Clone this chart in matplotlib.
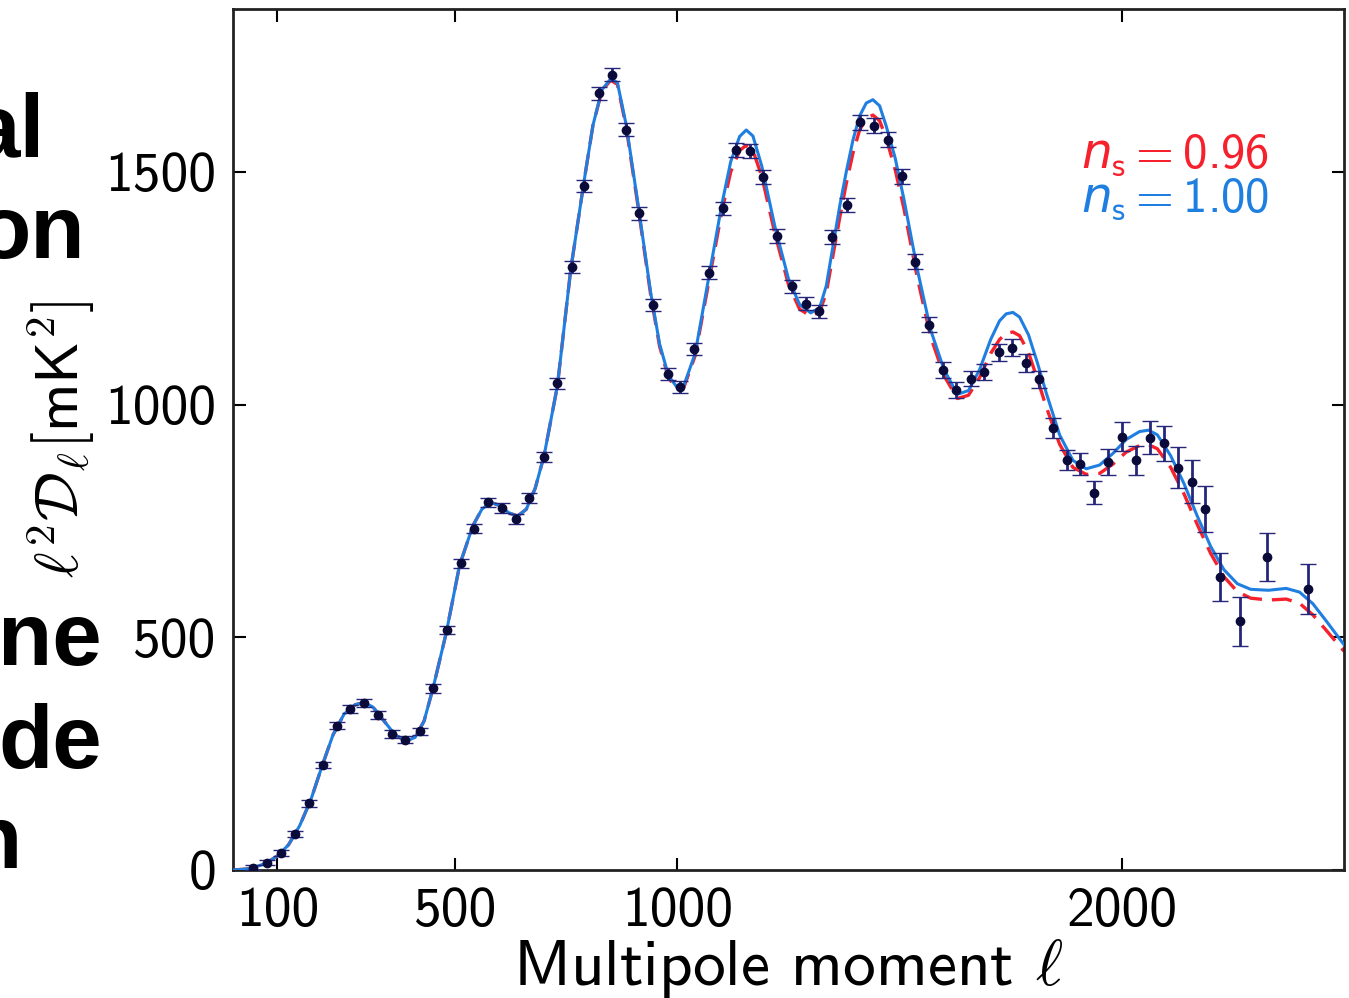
import numpy as np
import matplotlib
matplotlib.use("Agg")
import matplotlib.pyplot as plt

plt.rcParams['mathtext.fontset'] = 'cm'
plt.rcParams['mathtext.rm'] = 'cmss10'
plt.rcParams['mathtext.sf'] = 'cmss10'
plt.rcParams['mathtext.it'] = 'DejaVu Sans:italic'
plt.rcParams['font.family'] = ['cmss10', 'DejaVu Sans']
plt.rcParams['axes.unicode_minus'] = False

# binned data points: multipole, D_l, error
ell_data = [46, 77, 109, 140, 172, 202, 234, 264, 295, 326,
            358, 387, 420, 451, 482, 512, 543, 574, 606, 637,
            667, 700, 730, 762, 790, 823, 853, 884, 914, 946,
            978, 1006, 1037, 1072, 1102, 1133, 1163, 1193, 1225, 1257,
            1289, 1319, 1349, 1381, 1411, 1442, 1473, 1505, 1535, 1567,
            1597, 1628, 1660, 1691, 1723, 1753, 1784, 1814, 1846, 1876,
            1907, 1937, 1970, 2001, 2033, 2064, 2095, 2126, 2157, 2187,
            2221, 2266, 2326, 2420]
dl_data = [5, 16, 36, 77, 143, 226, 310, 346, 359, 333,
           292, 280, 298, 390, 516, 659, 733, 790, 778, 754,
           799, 888, 1046, 1295, 1470, 1669, 1709, 1590, 1411, 1214,
           1065, 1037, 1119, 1283, 1422, 1546, 1544, 1488, 1363, 1254,
           1217, 1201, 1361, 1429, 1607, 1599, 1569, 1491, 1307, 1172,
           1074, 1031, 1056, 1070, 1112, 1122, 1090, 1054, 950, 881,
           872, 811, 877, 931, 880, 929, 917, 864, 834, 776,
           630, 534, 673, 604]
dl_err = [5, 5, 6, 6, 7, 7, 8, 8, 8, 8,
          8, 8, 8, 9, 9, 10, 10, 10, 10, 10,
          11, 11, 12, 13, 13, 14, 14, 14, 14, 13,
          13, 13, 13, 14, 14, 15, 15, 15, 15, 14,
          14, 14, 15, 15, 16, 16, 16, 16, 16, 16,
          17, 17, 17, 18, 18, 18, 19, 19, 21, 22,
          23, 25, 28, 31, 32, 36, 38, 44, 46, 50,
          52, 52, 52, 53]

# theory curves (n_s = 1.00 solid, n_s = 0.96 dashed)
ell_theory = [2, 30, 50, 75, 100, 125, 150, 175, 200, 225,
              250, 275, 295, 315, 340, 365, 390, 410, 430, 450,
              480, 510, 540, 560, 580, 600, 620, 640, 660, 680,
              700, 730, 760, 790, 810, 830, 850, 865, 885, 910,
              940, 960, 980, 1000, 1015, 1040, 1070, 1100, 1120, 1140,
              1155, 1170, 1190, 1220, 1250, 1275, 1300, 1320, 1335, 1350,
              1365, 1380, 1395, 1410, 1425, 1440, 1455, 1470, 1490, 1510,
              1540, 1570, 1600, 1630, 1655, 1680, 1705, 1725, 1740, 1755,
              1770, 1790, 1810, 1830, 1860, 1890, 1920, 1950, 1980, 2010,
              2040, 2060, 2080, 2110, 2140, 2170, 2200, 2230, 2260, 2290,
              2330, 2370, 2400, 2430, 2460, 2500]
dl_ns100 = [0, 2, 6, 15, 30, 54, 95, 150, 222, 290,
            335, 355, 360, 350, 320, 290, 277, 285, 320, 390,
            510, 655, 740, 775, 790, 783, 768, 760, 775, 820,
            890, 1040, 1290, 1480, 1600, 1676, 1700, 1692, 1600, 1440,
            1240, 1130, 1062, 1036, 1042, 1110, 1270, 1430, 1522, 1576,
            1590, 1577, 1512, 1380, 1270, 1215, 1197, 1208, 1255, 1340,
            1425, 1500, 1568, 1620, 1648, 1655, 1642, 1598, 1530, 1440,
            1290, 1160, 1075, 1022, 1030, 1075, 1140, 1180, 1195, 1198,
            1188, 1150, 1090, 1025, 935, 880, 862, 870, 895, 925,
            942, 945, 935, 890, 830, 760, 695, 645, 615, 603,
            601, 605, 597, 572, 535, 484]
dl_ns096 = [0, 2, 6, 15, 30, 54, 95, 150, 222, 290,
            335, 355, 360, 350, 320, 290, 277, 285, 320, 390,
            510, 655, 740, 775, 790, 783, 768, 760, 775, 820,
            890, 1040, 1290, 1480, 1600, 1674, 1697, 1688, 1595, 1435,
            1235, 1125, 1057, 1033, 1038, 1105, 1260, 1415, 1500, 1546,
            1557, 1546, 1490, 1365, 1258, 1205, 1190, 1199, 1240, 1320,
            1400, 1475, 1540, 1590, 1615, 1622, 1610, 1572, 1505, 1420,
            1272, 1145, 1062, 1013, 1020, 1058, 1110, 1140, 1153, 1156,
            1148, 1112, 1055, 995, 915, 865, 850, 852, 872, 898,
            912, 914, 905, 865, 808, 742, 680, 630, 598, 584,
            580, 582, 573, 548, 515, 470]

xticks = [100, 500, 1000, 2000]
yticks = [0, 500, 1000, 1500]
side_words = ["al", "on", "ne", "de", "n"]
side_right = [45, 85, 102, 102, 22]
side_base = [157, 258, 665, 768, 868]

fig = plt.figure(figsize=(13.49, 9.98), dpi=100)
ax = fig.add_axes([0.1727, 0.1283, 0.8236, 0.8627])

ax.plot(ell_theory, dl_ns096, color='#f5222d', lw=2.4, dashes=(6, 3), zorder=2)
ax.plot(ell_theory, dl_ns100, color='#1f7fe0', lw=2.2, zorder=3)
ax.errorbar(ell_data, dl_data, yerr=dl_err, fmt='o', color='#0b0b3b', ms=6,
            ecolor='#26267a', elinewidth=2, capsize=6, capthick=1, zorder=4)

ax.set_xlim(0, 2500)
ax.set_ylim(0, 1850)
ax.set_xticks(xticks)
ax.set_yticks(yticks)
ax.tick_params(direction='in', length=9, width=1.5, top=True, right=True,
               labelsize=40, pad=12)
for s in ax.spines.values():
    s.set_linewidth(2)
    s.set_color('#222222')

ax.set_xlabel(r"Multipole moment $\ell$", fontsize=47, labelpad=0)
ax.set_ylabel(r"$\ell^2\mathcal{D}_\ell[\mathsf{mK}^2]$", fontsize=44, labelpad=6)

t1 = ax.text(0.933, 0.815, r"$n_\mathrm{s} = 0.96$", color='#f5222d',
             fontsize=35, ha='right', va='baseline', transform=ax.transAxes)
t2 = ax.text(0.933, 0.764, r"$n_\mathrm{s} = 1.00$", color='#1f7fe0',
             fontsize=35, ha='right', va='baseline', transform=ax.transAxes)
t1.set_math_fontfamily('custom')
t2.set_math_fontfamily('custom')

W, H = 1349.0, 998.0
for word, xr, yb in zip(side_words, side_right, side_base):
    fig.text(xr / W, 1 - yb / H, word, ha='right', va='baseline',
             fontsize=64, fontweight='bold', family='Liberation Sans')

fig.savefig("out.png", dpi=100)
